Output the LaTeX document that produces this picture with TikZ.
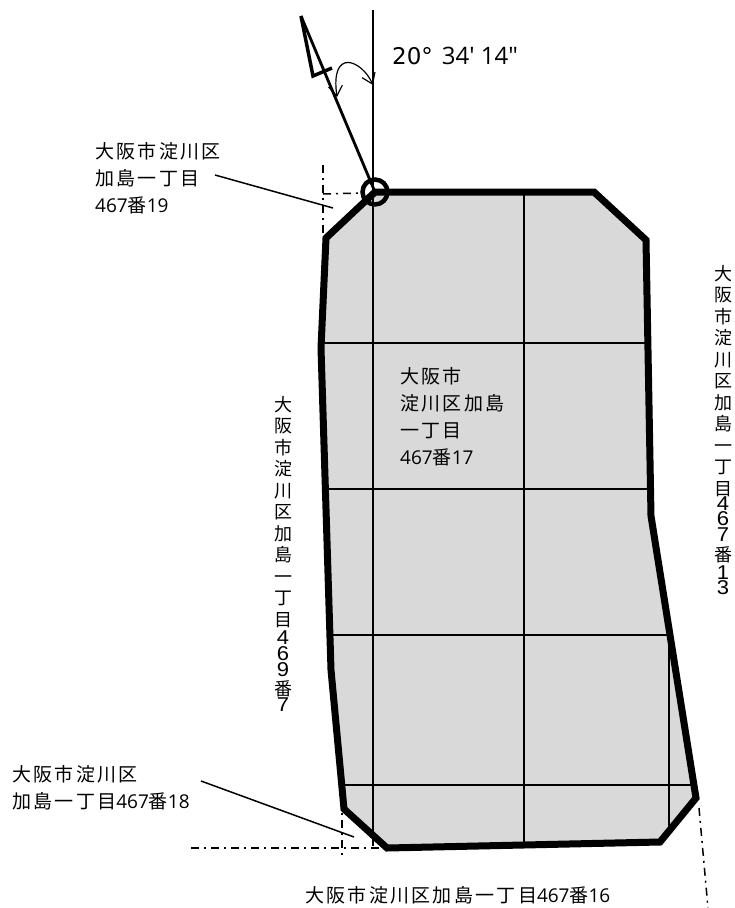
\documentclass[tikz,border=0pt]{standalone}
\usepackage{fontspec}
\setmainfont{DejaVu Sans}
\newfontfamily\cjk[LetterSpace=12]{Noto Sans CJK JP}
\newfontfamily\vcjk{Noto Sans CJK JP}
\newfontfamily\numfont{Open Sans}
\newfontfamily\vnumfont{Liberation Sans}
\newcommand{\dg}[1]{{\numfont\fontsize{19}{27}\selectfont #1}}
\newcommand{\vd}[1]{\scalebox{1.1}[1]{\vnumfont\fontsize{20}{21.5}\selectfont #1}}
\usetikzlibrary{arrows.meta,positioning,calc}
\tikzset{
    parcel/.style = {
        fill=black!15,
        draw=none
    },
    boundary/.style = {
        line width=7pt,
        line join=miter
    },
    gridline/.style = {
        line width=1.5pt
    },
    leader/.style = {
        line width=1.5pt
    },
    chain/.style = {
        line width=1.5pt,
        dash pattern=on 8pt off 5pt on 2pt off 5pt
    },
    lbl/.style = {
        font=\cjk\fontsize{19}{27}\selectfont,
        align=left,
        inner sep=0pt
    },
    vlbl/.style = {
        font=\vcjk\fontsize{18}{21.5}\selectfont,
        align=center,
        inner sep=0pt
    }
}
\begin{document}
\begin{tikzpicture}[x=1pt,y=-1pt]
\useasboundingbox (0,0) rectangle (735,908);
% corners of the lot
\coordinate (A) at (375,192);
\coordinate (B) at (594,192);
\coordinate (C) at (646,240);
\coordinate (D) at (651,516);
\coordinate (E) at (696,798);
\coordinate (F) at (660,842);
\coordinate (G) at (387,848);
\coordinate (H) at (344,809);
\coordinate (J) at (331,670);
\coordinate (K) at (321,348);
\coordinate (L) at (326,238);

\fill[parcel] (A) -- (B) -- (C) -- (D) -- (E) -- (F) -- (G) -- (H) -- (J) -- (K) -- (L) -- cycle;

% grid
\coordinate (V1t) at (373,10);
\coordinate (V1b) at (373,846);
\coordinate (V2t) at (524,192);
\coordinate (V2b) at (524,845);
\coordinate (V3t) at (669,635);
\coordinate (V3b) at (669,827);
\draw[gridline] (V1t) -- (V1b);
\draw[gridline] (V2t) -- (V2b);
\draw[gridline] (V3t) -- (V3b);
\foreach \ya/\xa/\xb in {343/321/648, 489/325/651, 635/330/668, 785/344/693}
    \draw[gridline] (\xa,\ya) -- (\xb,\ya);

\draw[boundary] (A) -- (B) -- (C) -- (D) -- (E) -- (F) -- (G) -- (H) -- (J) -- (K) -- (L) -- cycle;

% north mark
\node (PT) [circle,draw,line width=4.5pt,minimum size=25pt,inner sep=0pt] at (375,192) {};
\coordinate (N1) at (301,16);
\coordinate (N2) at (313,76);
\coordinate (N3) at (332,68);
\draw[line width=2.8pt] (A) -- (N1);
\draw[line width=3.5pt,line join=miter] (N1) -- (N2) -- (N3);
\coordinate (Ra) at (373,85);
\coordinate (Rb) at (337,97);
\draw[line width=1.2pt,{Straight Barb[length=10pt,width=14pt]}-{Straight Barb[length=10pt,width=14pt]}] (Ra) .. controls (362,60) and (330,47) .. (Rb);

\node (ANG) [anchor=west,inner sep=0pt] at (392,56) {{\fontsize{23}{26}\selectfont 20°}\hspace{9pt}{\numfont\fontsize{24}{26}\selectfont 34' 14"}};

% dash-dot lines
\coordinate (P1t) at (323,165);
\coordinate (P1b) at (323,238);
\coordinate (P1m) at (323,194);
\coordinate (P1e) at (362,193);
\draw[chain] (P1t) -- (P1b);
\draw[chain] (P1m) -- (P1e);
\coordinate (P2t) at (342,800);
\coordinate (P2b) at (342,855);
\coordinate (P2l) at (191,848);
\draw[chain] (P2t) -- (P2b);
\draw[chain] (P2l) -- (G);
\coordinate (P3t) at (699,808);
\coordinate (P3b) at (708,908);
\draw[chain] (P3t) -- (P3b);

% labels
\node (L19) [lbl,anchor=north west] at (95,142) {大阪市淀川区\\加島一丁目\\\dg{467}番\dg{19}};
\coordinate (L19s) at (215,175);
\coordinate (L19e) at (333,208);
\draw[leader] (L19s) -- (L19e);
\node (L17) [lbl,anchor=north west] at (400,367) {大阪市\\淀川区加島\\一丁目\\\dg{467}番\dg{17}};
\node (L18) [lbl,anchor=north west] at (12,765) {大阪市淀川区\\加島一丁目\dg{467}番\dg{18}};
\coordinate (L18s) at (201,781);
\coordinate (L18e) at (354,837);
\draw[leader] (L18s) -- (L18e);
\node (L16) [lbl,anchor=north west] at (305,886) {大阪市淀川区加島一丁目\dg{467}番\dg{16}};
\node (L7) [vlbl,anchor=north] at (283,396) {大\\阪\\市\\淀\\川\\区\\加\\島\\一\\丁\\目\\[-3.5pt]\vd{4}\\[-5.5pt]\vd{6}\\[-5.5pt]\vd{9}\\[-2.5pt]番\\[-5.5pt]\vd{7}};
\node (L13) [vlbl,anchor=north] at (723,265) {大\\阪\\市\\淀\\川\\区\\加\\島\\一\\丁\\目\\[-6.5pt]\vd{4}\\[-6.5pt]\vd{6}\\[-5pt]\vd{7}\\[-1.5pt]番\\[-3.5pt]\vd{1}\\[-6.5pt]\vd{3}};
\end{tikzpicture}
\end{document}
